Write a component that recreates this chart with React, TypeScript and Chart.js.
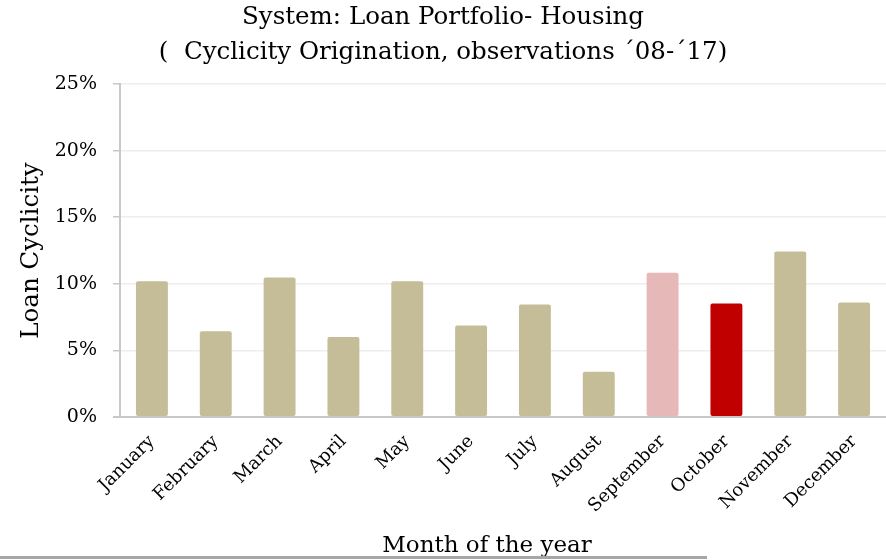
import React, { useEffect, useRef } from "react";
import { Chart, registerables } from "chart.js";

Chart.register(...registerables);

const months = ["January", "February", "March", "April", "May", "June", "July", "August", "September", "October", "November", "December"];
const cyclicity = [10.2, 6.43, 10.48, 6.0, 10.2, 6.88, 8.45, 3.4, 10.83, 8.53, 12.43, 8.6];
const barColors = ["#c4bd97", "#c4bd97", "#c4bd97", "#c4bd97", "#c4bd97", "#c4bd97", "#c4bd97", "#c4bd97", "#e6b9b8", "#c00000", "#c4bd97", "#c4bd97"];
const titleLines = ["System: Loan Portfolio- Housing", "(  Cyclicity Origination, observations \u00B408-\u00B417)"];
const yTitle = "Loan Cyclicity";
const xTitle = "Month of the year";

const FONT = "'DejaVu Serif', serif";

const xTitlePlugin = {
  id: "xTitlePlugin",
  afterDraw(chart: any) {
    const ctx = chart.ctx;
    ctx.save();
    ctx.fillStyle = "#000";
    ctx.font = `23px ${FONT}`;
    ctx.textAlign = "center";
    ctx.textBaseline = "alphabetic";
    ctx.fillText(xTitle, 487, 552);
    ctx.fillStyle = "#a6a6a6";
    ctx.fillRect(0, 556, 707, 3);
    ctx.restore();
  },
};

export default function App() {
  const ref = useRef<HTMLCanvasElement>(null);
  useEffect(() => {
    document.body.style.margin = "0";
    const chart = new Chart(ref.current!, {
      type: "bar",
      data: {
        labels: months,
        datasets: [
          {
            data: cyclicity,
            backgroundColor: barColors,
            borderRadius: 2,
            borderSkipped: false,
            barPercentage: 0.5,
            categoryPercentage: 1,
          },
        ],
      },
      plugins: [xTitlePlugin],
      options: {
        animation: false,
        responsive: false,
        layout: { padding: { top: 0, right: 0, left: 0, bottom: 0 } },
        plugins: {
          legend: { display: false },
          tooltip: { enabled: false },
          title: {
            display: true,
            text: titleLines,
            color: "#000",
            font: { family: FONT, size: 24.5, weight: "normal", lineHeight: 1.43 },
            padding: { top: 0, bottom: 14 },
          },
        },
        scales: {
          x: {
            grid: { display: false },
            border: { display: false },
            ticks: {
              color: "#000",
              font: { family: FONT, size: 18 },
              minRotation: 45,
              maxRotation: 45,
              padding: 6,
            },
            afterFit(scale: any) {
              scale.height = 143;
            },
          },
          y: {
            min: 0,
            max: 25,
            ticks: {
              stepSize: 5,
              color: "#000",
              font: { family: FONT, size: 19 },
              padding: 16,
              callback: (v: any) => v + "%",
            },
            grid: {
              color: (c: any) => (c.tick && c.tick.value === 0 ? "#c8c8c8" : "#eeeeee"),
              lineWidth: (c: any) => (c.tick && c.tick.value === 0 ? 2 : 1.5),
              tickColor: "#c8c8c8",
              tickLength: 7,
            },
            border: { color: "#c8c8c8", width: 2 },
            title: {
              display: true,
              text: yTitle,
              color: "#000",
              font: { family: FONT, size: 24.5 },
              padding: { top: 17, bottom: 4 },
            },
            afterFit(scale: any) {
              scale.width = 120;
            },
          },
        },
      },
    });
    return () => chart.destroy();
  }, []);
  return <canvas ref={ref} width={886} height={560} style={{ display: "block" }} />;
}
